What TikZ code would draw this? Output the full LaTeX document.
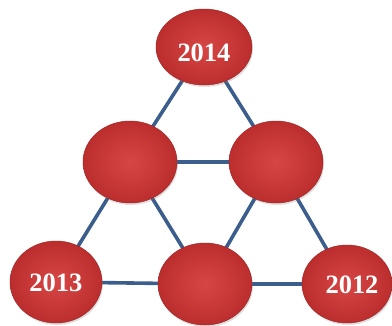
\documentclass[tikz,border=0pt]{standalone}
\usepackage{fontspec}
\setmainfont{Liberation Serif}
\usetikzlibrary{shapes.geometric,backgrounds,shadows}
\definecolor{linkblue}{RGB}{59,94,140}
\definecolor{ballin}{RGB}{214,70,68}
\definecolor{ballout}{RGB}{188,46,46}
\tikzset{
  ball/.style={ellipse, draw=ballout!85!black, line width=0.5pt,
    inner color=ballin, outer color=ballout,
    drop shadow={shadow xshift=1pt, shadow yshift=-2pt, opacity=0.25},
    minimum width=94pt, minimum height=82pt, inner sep=0pt},
  year/.style={text=white, font=\fontsize{26.5}{28}\selectfont\bfseries, inner sep=0pt},
  link/.style={draw=linkblue, line width=3.6pt}
}
\begin{document}
\begin{tikzpicture}[x=1pt,y=-1pt]
\useasboundingbox (0,0) rectangle (392,325);
\node[ball, minimum width=96pt, minimum height=76pt,
  label={[year, yshift=-6pt]center:2014}] (top) at (204,47) {};
\node[ball] (ml) at (130,162) {};
\node[ball] (mr) at (276,162) {};
\node[ball, minimum width=92pt,
  label={[year, yshift=-1pt]center:2013}] (bl) at (56,282) {};
\node[ball] (bm) at (205,284) {};
\node[ball, minimum width=90pt, minimum height=78pt,
  label={[year, yshift=-1pt, xshift=5pt]center:2012}] (br) at (347,284) {};
\begin{pgfonlayer}{background}
\draw[link] (top.center) -- (ml.center);
\draw[link] (top.center) -- (mr.center);
\draw[link] (ml.center) -- (mr.center);
\draw[link] (ml.center) -- (bl.center);
\draw[link] (ml.center) -- (bm.center);
\draw[link] (mr.center) -- (bm.center);
\draw[link] (mr.center) -- (br.center);
\draw[link] (bl.center) -- (bm.center);
\draw[link] (bm.center) -- (br.center);
\end{pgfonlayer}
\end{tikzpicture}
\end{document}
